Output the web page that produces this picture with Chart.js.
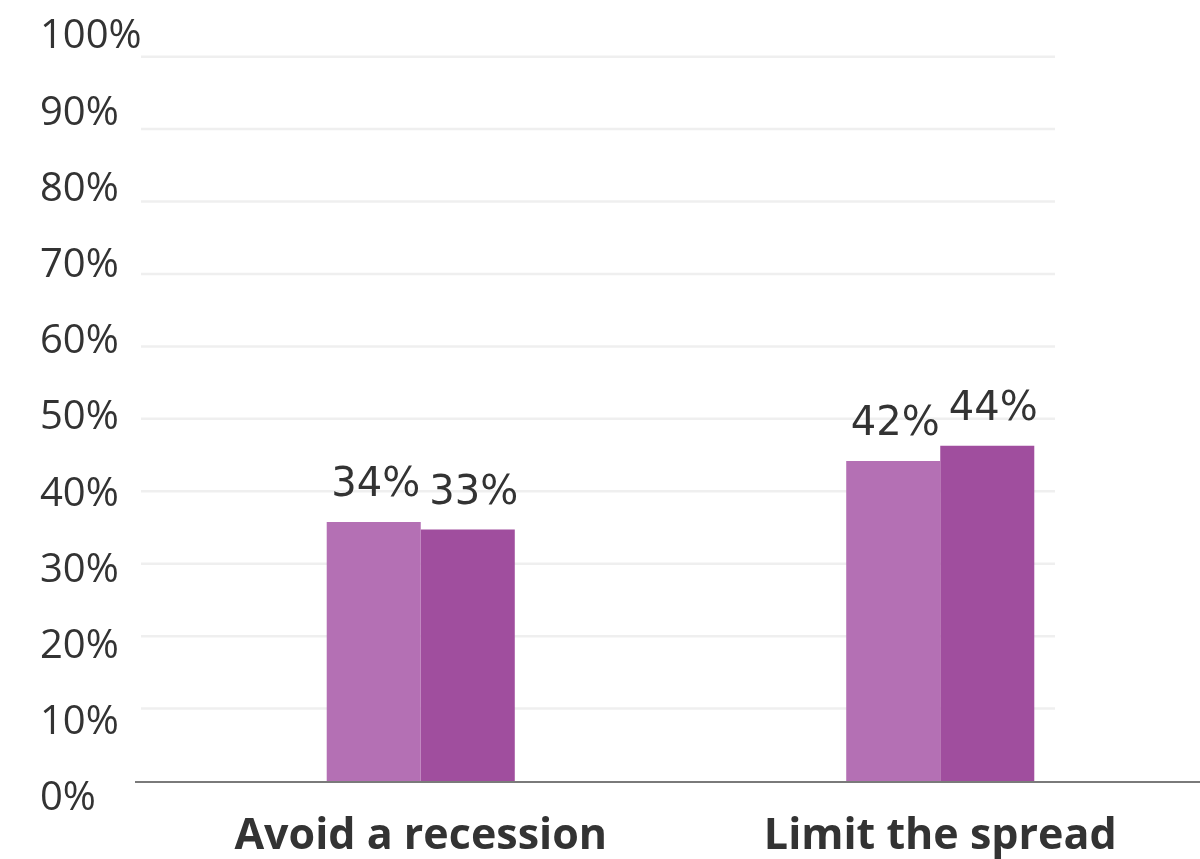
<!DOCTYPE html>
<html>
<head>
<meta charset="utf-8">
<script src="https://cdn.jsdelivr.net/npm/chart.js@4.4.1/dist/chart.umd.min.js"></script>
<style>
  html, body { margin: 0; padding: 0; background: #ffffff; }
  #wrap { width: 1200px; height: 859px; position: relative; }
</style>
</head>
<body>
<div id="wrap"><canvas id="c" width="1200" height="859"></canvas></div>
<script>
// ---- data ----
const categories = ['Avoid a recession', 'Limit the spread'];
const seriesA = [34, 42];
const seriesB = [33, 44];
const tickValues = [0, 10, 20, 30, 40, 50, 60, 70, 80, 90, 100];

const colorA = '#B470B4';
const colorB = '#A04E9E';
const textColor = '#333333';

// light horizontal guide lines + dark baseline, positioned by the chart's scales
const guides = {
  id: 'guides',
  beforeDatasetsDraw(chart) {
    const ctx = chart.ctx;
    const g = chart.scales.yGrid;
    const area = chart.chartArea;
    ctx.save();
    ctx.strokeStyle = '#efefef';
    ctx.lineWidth = 2.5;
    tickValues.filter(v => v > 0).forEach(v => {
      const py = g.getPixelForValue(v);
      ctx.beginPath();
      ctx.moveTo(area.left - 20, py);
      ctx.lineTo(1055, py);
      ctx.stroke();
    });
    ctx.restore();
  },
  afterDatasetsDraw(chart) {
    const ctx = chart.ctx;
    const y = chart.scales.y;
    const area = chart.chartArea;
    const py = y.getPixelForValue(0);
    ctx.save();
    ctx.strokeStyle = '#7a7a7a';
    ctx.lineWidth = 2;
    ctx.beginPath();
    ctx.moveTo(area.left - 26, py + 1);
    ctx.lineTo(area.right, py + 1);
    ctx.stroke();
    ctx.restore();
  }
};

const valueLabels = {
  id: 'valueLabels',
  afterDatasetsDraw(chart) {
    const ctx = chart.ctx;
    ctx.save();
    ctx.font = '40px "DejaVu Sans", sans-serif';
    ctx.fillStyle = textColor;
    ctx.textAlign = 'center';
    ctx.textBaseline = 'middle';
    chart.data.datasets.forEach((ds, di) => {
      const meta = chart.getDatasetMeta(di);
      meta.data.forEach((el, i) => {
        ctx.fillText(ds.data[i] + '%', el.x + 2 + di * 4, el.y - 36);
      });
    });
    ctx.restore();
  }
};

function noPad(scale) {
  scale.paddingTop = 0;
  scale.paddingBottom = 0;
}

new Chart(document.getElementById('c'), {
  type: 'bar',
  data: {
    labels: categories,
    datasets: [
      { data: seriesA, backgroundColor: colorA, borderWidth: 0 },
      { data: seriesB, backgroundColor: colorB, borderWidth: 0 }
    ]
  },
  options: {
    responsive: false,
    animation: false,
    layout: { padding: { left: 40, right: 0, top: 19, bottom: 0 } },
    categoryPercentage: 0.362,
    barPercentage: 1.0,
    plugins: { legend: { display: false }, tooltip: { enabled: false } },
    scales: {
      x: {
        grid: { display: false, drawTicks: false },
        border: { display: false },
        ticks: {
          color: textColor,
          padding: 30,
          font: { family: '"Open Sans", sans-serif', size: 43, weight: 'bold', lineHeight: 1.2 }
        },
        afterFit(scale) { scale.height = 78; scale.paddingLeft = 0; scale.paddingRight = 0; }
      },
      y: {
        min: 0, max: 100,
        grid: { display: false, drawTicks: false },
        border: { display: false },
        afterBuildTicks(scale) { scale.ticks = tickValues.map(v => ({ value: v })); },
        ticks: {
          color: textColor,
          crossAlign: 'far',
          labelOffset: 18,
          padding: 10,
          font: { family: '"Open Sans", sans-serif', size: 40 },
          callback: v => v + '%'
        },
        afterFit(scale) { scale.width = 121; noPad(scale); }
      },
      yGrid: {
        position: 'right',
        min: 0, max: 105.2,
        grid: { display: false, drawTicks: false },
        border: { display: false },
        afterBuildTicks(scale) { scale.ticks = tickValues.map(v => ({ value: v })); },
        ticks: { display: false },
        afterFit(scale) { scale.width = 0; noPad(scale); }
      }
    }
  },
  plugins: [guides, valueLabels]
});
</script>
</body>
</html>
